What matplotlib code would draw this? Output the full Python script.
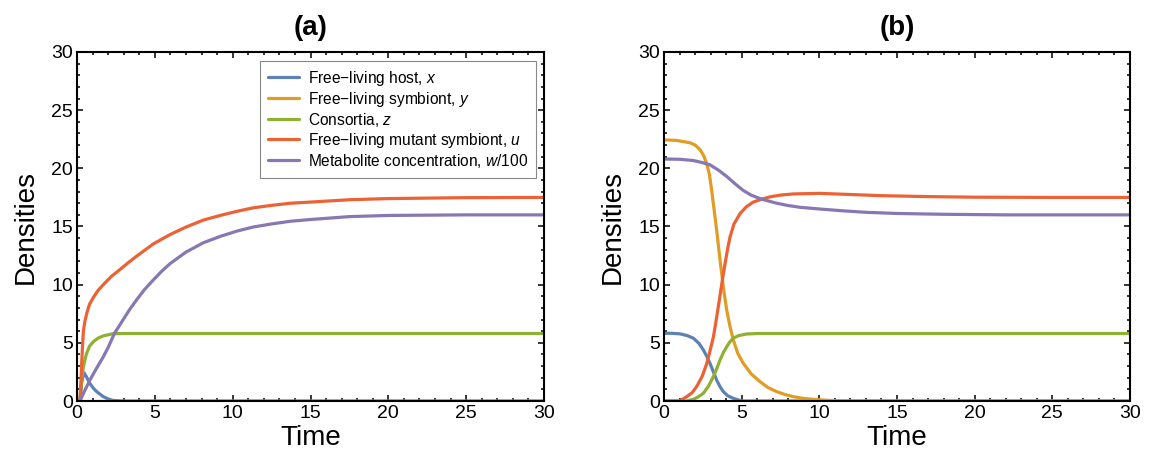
import numpy as np
import matplotlib
matplotlib.use('Agg')
import matplotlib.pyplot as plt
from matplotlib.ticker import MultipleLocator

plt.rcParams['font.family'] = ['Liberation Sans', 'DejaVu Sans']
plt.rcParams['mathtext.fontset'] = 'custom'
plt.rcParams['mathtext.it'] = 'Liberation Sans:italic'
plt.rcParams['mathtext.rm'] = 'Liberation Sans'

# Panel (a)
a_t_x = [0.0, 0.19, 0.3, 0.45, 0.6, 0.83, 1.05, 1.27, 1.69, 2.0, 2.3, 3.0, 30]
a_x = [0.0, 0.0, 1.6, 2.43, 2.1, 1.5, 1.1, 0.8, 0.37, 0.18, 0.05, 0.0, 0.0]

a_t_y = [0, 30]
a_y = [0.0, 0.0]

a_t_z = [0.0, 0.19, 0.3, 0.41, 0.52, 0.62, 0.8, 1.05, 1.35, 1.69, 2.3, 3.0, 30]
a_z = [0.0, 0.0, 1.8, 2.95, 3.6, 4.1, 4.7, 5.1, 5.4, 5.6, 5.78, 5.8, 5.8]

a_t_u = [0.0, 0.19, 0.25, 0.3, 0.35, 0.41, 0.5, 0.62, 0.8, 1.05, 1.35, 1.69, 2.2,
         2.76, 3.3, 3.83, 4.9, 5.97, 7.0, 8.11, 9.2, 10.26, 11.3, 12.4, 13.7,
         15, 17.5, 20, 25, 30]
a_u = [0.0, 0.0, 1.6, 3.2, 4.6, 6.0, 6.8, 7.5, 8.3, 8.9, 9.5, 10.0, 10.7,
       11.3, 11.9, 12.45, 13.5, 14.3, 14.95, 15.55, 15.95, 16.3, 16.6, 16.8, 17.0,
       17.1, 17.3, 17.4, 17.48, 17.5]

a_t_w = [0.0, 0.19, 0.5, 0.83, 1.25, 1.69, 2.0, 2.4, 2.97, 3.4, 3.83, 4.35, 4.9,
         5.4, 5.97, 7.0, 8.11, 9.2, 10.26, 11.3, 12.4, 13.7, 15, 17.5, 20, 25, 30]
a_w = [0.0, 0.0, 0.9, 1.8, 2.8, 3.8, 4.6, 5.8, 7.0, 7.9, 8.7, 9.6, 10.4,
       11.1, 11.8, 12.8, 13.6, 14.15, 14.6, 14.95, 15.2, 15.45, 15.6, 15.85,
       15.95, 16.0, 16.0]

# Panel (b)
b_t_x = [0.0, 0.5, 1.03, 1.5, 1.89, 2.25, 2.53, 2.75, 2.96, 3.18, 3.39, 3.6,
         3.82, 4.1, 4.46, 4.8, 5.1, 30]
b_x = [5.82, 5.82, 5.77, 5.62, 5.4, 4.95, 4.4, 3.85, 3.24, 2.5, 1.8, 1.25,
       0.8, 0.45, 0.23, 0.08, 0.0, 0.0]

b_t_y = [0.0, 0.8, 1.67, 2.0, 2.32, 2.55, 2.75, 2.92, 3.07, 3.23, 3.39, 3.55,
         3.71, 3.87, 4.04, 4.25, 4.46, 4.75, 5.1, 5.6, 6.18, 6.7, 7.26, 7.8,
         8.33, 9.0, 9.6, 10.5, 11.5, 30]
b_y = [22.45, 22.4, 22.2, 22.0, 21.6, 21.1, 20.4, 19.5, 18.1, 16.4, 14.7,
       12.8, 11.0, 9.3, 7.8, 6.4, 5.25, 4.1, 3.25, 2.35, 1.66, 1.15, 0.8, 0.55,
       0.37, 0.22, 0.14, 0.06, 0.0, 0.0]

b_t_z = [0.0, 1.46, 1.9, 2.2, 2.53, 2.85, 3.18, 3.4, 3.6, 3.82, 4.04, 4.25,
         4.46, 4.8, 5.32, 6.0, 30]
b_z = [0.0, 0.0, 0.15, 0.35, 0.66, 1.25, 2.1, 2.8, 3.5, 4.15, 4.67, 5.1,
       5.4, 5.62, 5.76, 5.8, 5.8]

b_t_u = [0.0, 1.0, 1.46, 1.8, 2.1, 2.45, 2.75, 2.96, 3.18, 3.39, 3.6, 3.77,
         3.93, 4.1, 4.25, 4.5, 4.89, 5.3, 5.75, 6.3, 6.83, 7.5, 8.33, 10.0,
         12.0, 14.0, 17.0, 20, 25, 30]
b_u = [0.0, 0.0, 0.37, 0.7, 1.23, 2.1, 3.2, 4.3, 5.5, 7.2, 9.0, 10.5,
       11.8, 13.1, 14.1, 15.2, 16.1, 16.7, 17.1, 17.35, 17.55, 17.7, 17.8, 17.85,
       17.75, 17.65, 17.57, 17.52, 17.5, 17.5]

b_t_w = [0.0, 1.0, 1.89, 2.45, 2.96, 3.5, 4.04, 4.55, 5.1, 5.6, 6.18, 6.7,
         7.26, 8.0, 8.76, 10.05, 11.5, 13.0, 15.0, 18.0, 22.0, 30]
b_w = [20.8, 20.78, 20.67, 20.5, 20.3, 19.85, 19.3, 18.7, 18.1, 17.7, 17.4,
       17.2, 17.0, 16.8, 16.65, 16.5, 16.35, 16.22, 16.12, 16.05, 16.0, 16.0]

labels = ['Free\u2212living host, $x$',
          'Free\u2212living symbiont, $y$',
          'Consortia, $z$',
          'Free\u2212living mutant symbiont, $u$',
          'Metabolite concentration, $w$/100']
colors = ['#5E81B5', '#E19C24', '#8FB032', '#EB6235', '#8778B3']

fig = plt.figure(figsize=(11.57, 4.69), dpi=100)
ax_a = fig.add_axes([77 / 1157, 68 / 469, 467 / 1157, 349 / 469])
ax_b = fig.add_axes([664 / 1157, 68 / 469, 466 / 1157, 349 / 469])

series_a = [(a_t_x, a_x), (a_t_y, a_y), (a_t_z, a_z), (a_t_u, a_u), (a_t_w, a_w)]
series_b = [(b_t_x, b_x), (b_t_y, b_y), (b_t_z, b_z), (b_t_u, b_u), (b_t_w, b_w)]

for ax, series, title in [(ax_a, series_a, '(a)'), (ax_b, series_b, '(b)')]:
    for (t, v), c, lab in zip(series, colors, labels):
        ax.plot(t, v, color=c, lw=2.3, label=lab, solid_capstyle='round',
                solid_joinstyle='round')
    ax.set_xlim(0, 30)
    ax.set_ylim(0, 30)
    ax.xaxis.set_major_locator(MultipleLocator(5))
    ax.yaxis.set_major_locator(MultipleLocator(5))
    ax.xaxis.set_minor_locator(MultipleLocator(1))
    ax.yaxis.set_minor_locator(MultipleLocator(1))
    ax.tick_params(which='both', direction='in', top=True, right=True,
                   width=1.1, labelsize=14, pad=3)
    ax.tick_params(which='major', length=4.5)
    ax.tick_params(which='minor', length=2.5)
    for s in ax.spines.values():
        s.set_linewidth(1.5)
        s.set_zorder(5)
    ax.set_xlabel('Time', fontsize=20, labelpad=2)
    ax.set_ylabel('Densities', fontsize=20, labelpad=9)
    ax.set_title(title, fontsize=20, fontweight='bold', pad=12)

leg = ax_a.legend(loc='upper right', bbox_to_anchor=(0.982, 0.974),
                  borderaxespad=0, fontsize=11.2, frameon=True, fancybox=False,
                  edgecolor='#888888', framealpha=1, handlelength=2.0,
                  handletextpad=0.55, labelspacing=0.13, borderpad=0.5)
leg.get_frame().set_linewidth(0.8)

fig.savefig('out.png', dpi=100)
